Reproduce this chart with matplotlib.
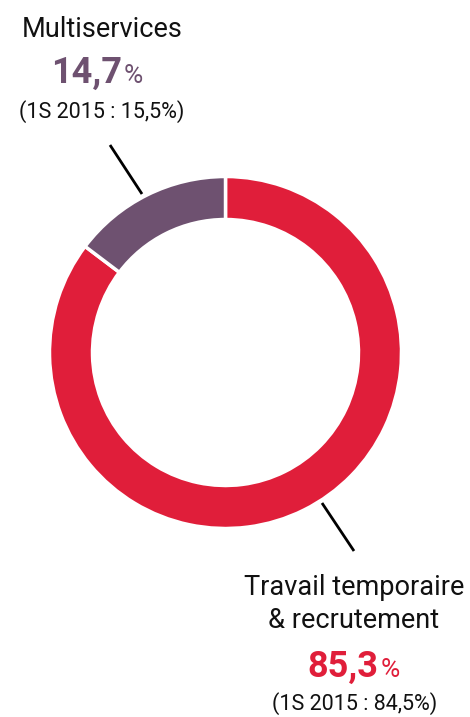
import matplotlib
matplotlib.use("Agg")
import matplotlib.pyplot as plt

categories = ["Travail temporaire\n& recrutement", "Multiservices"]
values = [85.3, 14.7]
value_labels = ["85,3", "14,7"]
previous_labels = ["(1S 2015 : 84,5", "(1S 2015 : 15,5"]
colors = ["#E01E3A", "#6E5170"]

W, H = 470, 717
fig = plt.figure(figsize=(W / 100, H / 100), dpi=100)
ax = fig.add_axes([0, 0, 1, 1])

def Y(y):
    return H - y

cx, cy, r = 225.5, 352.5, 176
ax.pie(values, colors=colors, startangle=90, counterclock=False,
       center=(cx, Y(cy)), radius=r,
       wedgeprops=dict(width=43, edgecolor="white", linewidth=2.5))
ax.set_xlim(0, W)
ax.set_ylim(0, H)
ax.set_aspect("equal")
ax.axis("off")

# leader lines
ax.plot([110, 142], [Y(145), Y(194)], color="black", lw=2, solid_capstyle="butt")
ax.plot([322, 354], [Y(503), Y(551)], color="black", lw=2, solid_capstyle="butt")

fam = ["Roboto", "DejaVu Sans"]
txt = "#111111"
lw_ = "normal"

# Multiservices block
ax.text(102, Y(37), categories[1], ha="center", va="baseline", fontsize=19.5,
        family=fam, weight=lw_, color=txt)
ax.text(122, Y(83), value_labels[1], ha="right", va="baseline", fontsize=26,
        family=fam, weight="bold", color=colors[1])
ax.text(124, Y(83), "%", ha="left", va="baseline", fontsize=19,
        family=fam, weight=lw_, color=colors[1])
ax.text(102, Y(118), previous_labels[1] + "%)", ha="center", va="baseline", fontsize=15.5,
        family=fam, weight=lw_, color=txt)

# Travail block
lines = categories[0].split("\n")
ax.text(354, Y(595), lines[0], ha="center", va="baseline", fontsize=19.5,
        family=fam, weight=lw_, color=txt)
ax.text(354, Y(628), lines[1], ha="center", va="baseline", fontsize=19.5,
        family=fam, weight=lw_, color=txt)
ax.text(378, Y(677), value_labels[0], ha="right", va="baseline", fontsize=26,
        family=fam, weight="bold", color=colors[0])
ax.text(381, Y(677), "%", ha="left", va="baseline", fontsize=19,
        family=fam, weight=lw_, color=colors[0])
ax.text(355, Y(710), previous_labels[0] + "%)", ha="center", va="baseline", fontsize=15.5,
        family=fam, weight=lw_, color=txt)

fig.savefig("out.png", dpi=100)
